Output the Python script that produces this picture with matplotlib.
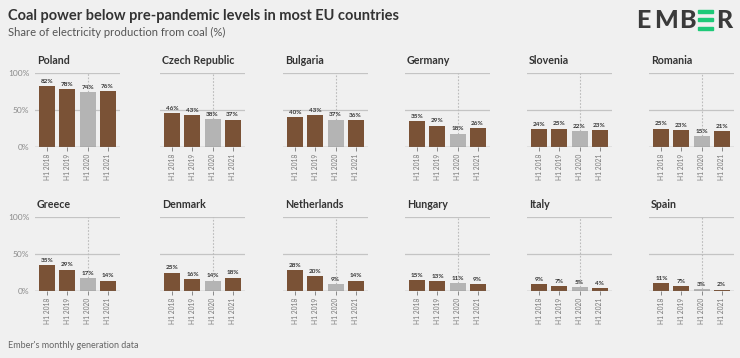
import matplotlib.pyplot as plt
from matplotlib.patches import Rectangle

plt.rcParams['font.family'] = ['Lato', 'DejaVu Sans']

countries = ['Poland', 'Czech Republic', 'Bulgaria', 'Germany', 'Slovenia', 'Romania',
             'Greece', 'Denmark', 'Netherlands', 'Hungary', 'Italy', 'Spain']
periods = ['H1 2018', 'H1 2019', 'H1 2020', 'H1 2021']
coal_share = [
    [82, 78, 74, 76],
    [46, 43, 38, 37],
    [40, 43, 37, 36],
    [35, 29, 18, 26],
    [24, 25, 22, 23],
    [25, 23, 15, 21],
    [35, 29, 17, 14],
    [25, 16, 14, 18],
    [28, 20, 9, 14],
    [15, 13, 11, 9],
    [9, 7, 5, 4],
    [11, 7, 3, 2],
]

bg = '#f0f0f0'
brown = '#7a5236'
grey = '#b4b4b4'
dark = '#333333'

W, H = 740, 358
fig = plt.figure(figsize=(7.4, 3.58), dpi=100, facecolor=bg)

lefts = [35, 160, 283, 405, 527, 649]
zero_y = [147, 291]
panel_w = 85
panel_h = 74

for i, name in enumerate(countries):
    row, col = divmod(i, 6)
    ax = fig.add_axes([lefts[col] / W, (H - zero_y[row]) / H, panel_w / W, panel_h / H])
    ax.set_facecolor(bg)
    vals = coal_share[i]
    x = range(len(vals))
    colors = [brown, brown, grey, brown]
    ax.bar(x, vals, width=0.8, color=colors, zorder=3)
    # dotted marker for 2020
    ax.plot([2, 2], [vals[2], 100], ls=(0, (1.5, 1.5)), color='#bbbbbb', lw=0.8, zorder=2)
    for xi, v in zip(x, vals):
        ax.text(xi, v + 3, f'{v}%', ha='center', va='bottom', fontsize=4.6,
                color=dark, fontweight='bold', zorder=4)
    ax.set_xlim(-0.62, 3.62)
    ax.set_ylim(0, 100)
    for g in (50, 100):
        ax.axhline(g, color='#c4c4c4', lw=0.9, zorder=1)
    ax.axhline(0, color='#777777', lw=0.9, zorder=4)
    for s in ax.spines.values():
        s.set_visible(False)
    ax.set_xticks(list(x))
    ax.set_xticklabels(periods, rotation=90, fontsize=4.8, color='#777777')
    ax.tick_params(axis='x', length=3, width=0.7, color='#888888', pad=2)
    ax.set_yticks([0, 50, 100])
    if col == 0:
        ax.set_yticklabels(['0%', '50%', '100%'], fontsize=6, color='#8a8a8a')
        ax.tick_params(axis='y', length=0, pad=4)
    else:
        ax.set_yticklabels([])
        ax.tick_params(axis='y', length=0)
    ax.text(0.02, 1.1, name, transform=ax.transAxes, fontsize=7.7, fontweight='bold',
            color=dark, ha='left', va='bottom')

fig.text(8 / W, 1 - 16 / H, 'Coal power below pre-pandemic levels in most EU countries',
         fontsize=10.5, fontweight='bold', color=dark, va='center', ha='left')
fig.text(8 / W, 1 - 32 / H, 'Share of electricity production from coal (%)',
         fontsize=8.1, color='#555555', va='center', ha='left')
fig.text(8 / W, 1 - 345 / H, "Ember's monthly generation data",
         fontsize=6.5, color='#666666', va='center', ha='left')

# logo
logo_y = 1 - 20 / H
for letter, lx, al in [('E', 636, 'left'), ('M', 654, 'left'), ('B', 679, 'left'),
                       ('R', 732, 'right')]:
    fig.text(lx / W, logo_y, letter, fontsize=18, fontweight='black', color='#3a3a3a',
             va='center', ha=al)
for k in range(3):
    fig.patches.append(Rectangle((698 / W, 1 - (10 + k * 8.3 + 3) / H), 15 / W, 3 / H,
                                 transform=fig.transFigure, color='#1ec978'))

fig.savefig('out.png', dpi=100, facecolor=bg)
